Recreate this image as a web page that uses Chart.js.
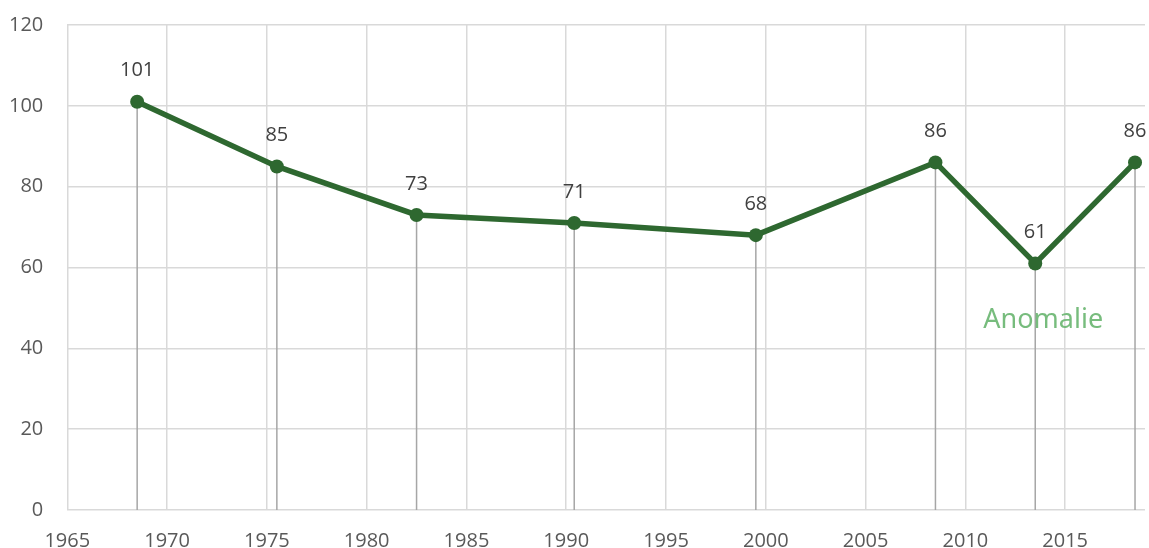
<!DOCTYPE html>
<html>
<head>
<meta charset="utf-8">
<script src="https://cdn.jsdelivr.net/npm/chart.js@4"></script>
<style>
  html, body { margin: 0; padding: 0; background: #fff; }
  #wrap { width: 1149px; height: 548px; }
</style>
</head>
<body>
<div id="wrap"><canvas id="chart"></canvas></div>
<script>
// donnees
const years = [1968.5, 1975.5, 1982.5, 1990.4, 1999.5, 2008.5, 2013.5, 2018.5];
const values = [101, 85, 73, 71, 68, 86, 61, 86];
const xTicks = [1965, 1970, 1975, 1980, 1985, 1990, 1995, 2000, 2005, 2010, 2015];
const yTicks = [0, 20, 40, 60, 80, 100, 120];
const noteText = "Anomalie";

const lineColor = "#2e6830";
const tickColor = "#595959";

// traits verticaux du point jusqu'a l'axe
const dropLines = {
  id: "dropLines",
  beforeDatasetsDraw(chart) {
    const ctx = chart.ctx;
    const meta = chart.getDatasetMeta(0);
    const y0 = chart.scales.y.getPixelForValue(0);
    ctx.save();
    ctx.strokeStyle = "#a6a6a6";
    ctx.lineWidth = 1.5;
    meta.data.forEach((pt) => {
      ctx.beginPath();
      ctx.moveTo(pt.x, pt.y);
      ctx.lineTo(pt.x, y0);
      ctx.stroke();
    });
    ctx.restore();
  },
};

// etiquettes de valeurs + texte "Anomalie"
const labels = {
  id: "labels",
  afterDatasetsDraw(chart) {
    const ctx = chart.ctx;
    const meta = chart.getDatasetMeta(0);
    ctx.save();
    ctx.font = "20px 'Open Sans'";
    ctx.fillStyle = "#404040";
    ctx.textAlign = "center";
    ctx.textBaseline = "middle";
    meta.data.forEach((pt, i) => {
      ctx.fillText(values[i], pt.x, pt.y - 31);
    });
    const x = chart.scales.x.getPixelForValue(2013.9);
    const y = chart.scales.y.getPixelForValue(47);
    ctx.font = "27px 'Noto Sans'";
    ctx.fillStyle = "rgba(112, 184, 118, 0.95)";
    ctx.fillText(noteText, x, y);
    ctx.restore();
  },
};

new Chart(document.getElementById("chart"), {
  type: "line",
  data: {
    datasets: [
      {
        data: years.map((yr, i) => ({ x: yr, y: values[i] })),
        borderColor: lineColor,
        backgroundColor: lineColor,
        borderWidth: 5.5,
        pointRadius: 7,
        pointBackgroundColor: lineColor,
        pointBorderWidth: 0,
        tension: 0,
        clip: false,
      },
    ],
  },
  options: {
    responsive: true,
    maintainAspectRatio: false,
    animation: false,
    layout: { autoPadding: false, padding: { top: 0, right: 4, left: -15, bottom: -24 } },
    plugins: { legend: { display: false }, tooltip: { enabled: false } },
    scales: {
      x: {
        type: "linear",
        min: 1965,
        max: 2019,
        afterBuildTicks: (scale) => {
          scale.ticks = xTicks.map((v) => ({ value: v }));
        },
        grid: { color: "#d9d9d9", lineWidth: 1.5, drawTicks: false },
        border: { display: false },
        ticks: {
          color: tickColor,
          font: { family: "Open Sans", size: 20 },
          padding: 19,
          maxRotation: 0,
          autoSkip: false,
          callback: (v) => String(v),
        },
      },
      y: {
        min: 0,
        max: 120,
        afterBuildTicks: (scale) => {
          scale.ticks = yTicks.map((v) => ({ value: v }));
        },
        grid: { color: "#d9d9d9", lineWidth: 1.5, drawTicks: false },
        border: { display: false },
        ticks: {
          color: tickColor,
          font: { family: "Open Sans", size: 20, lineHeight: 0.1 },
          padding: 24,
        },
      },
    },
  },
  plugins: [dropLines, labels],
});
</script>
</body>
</html>
